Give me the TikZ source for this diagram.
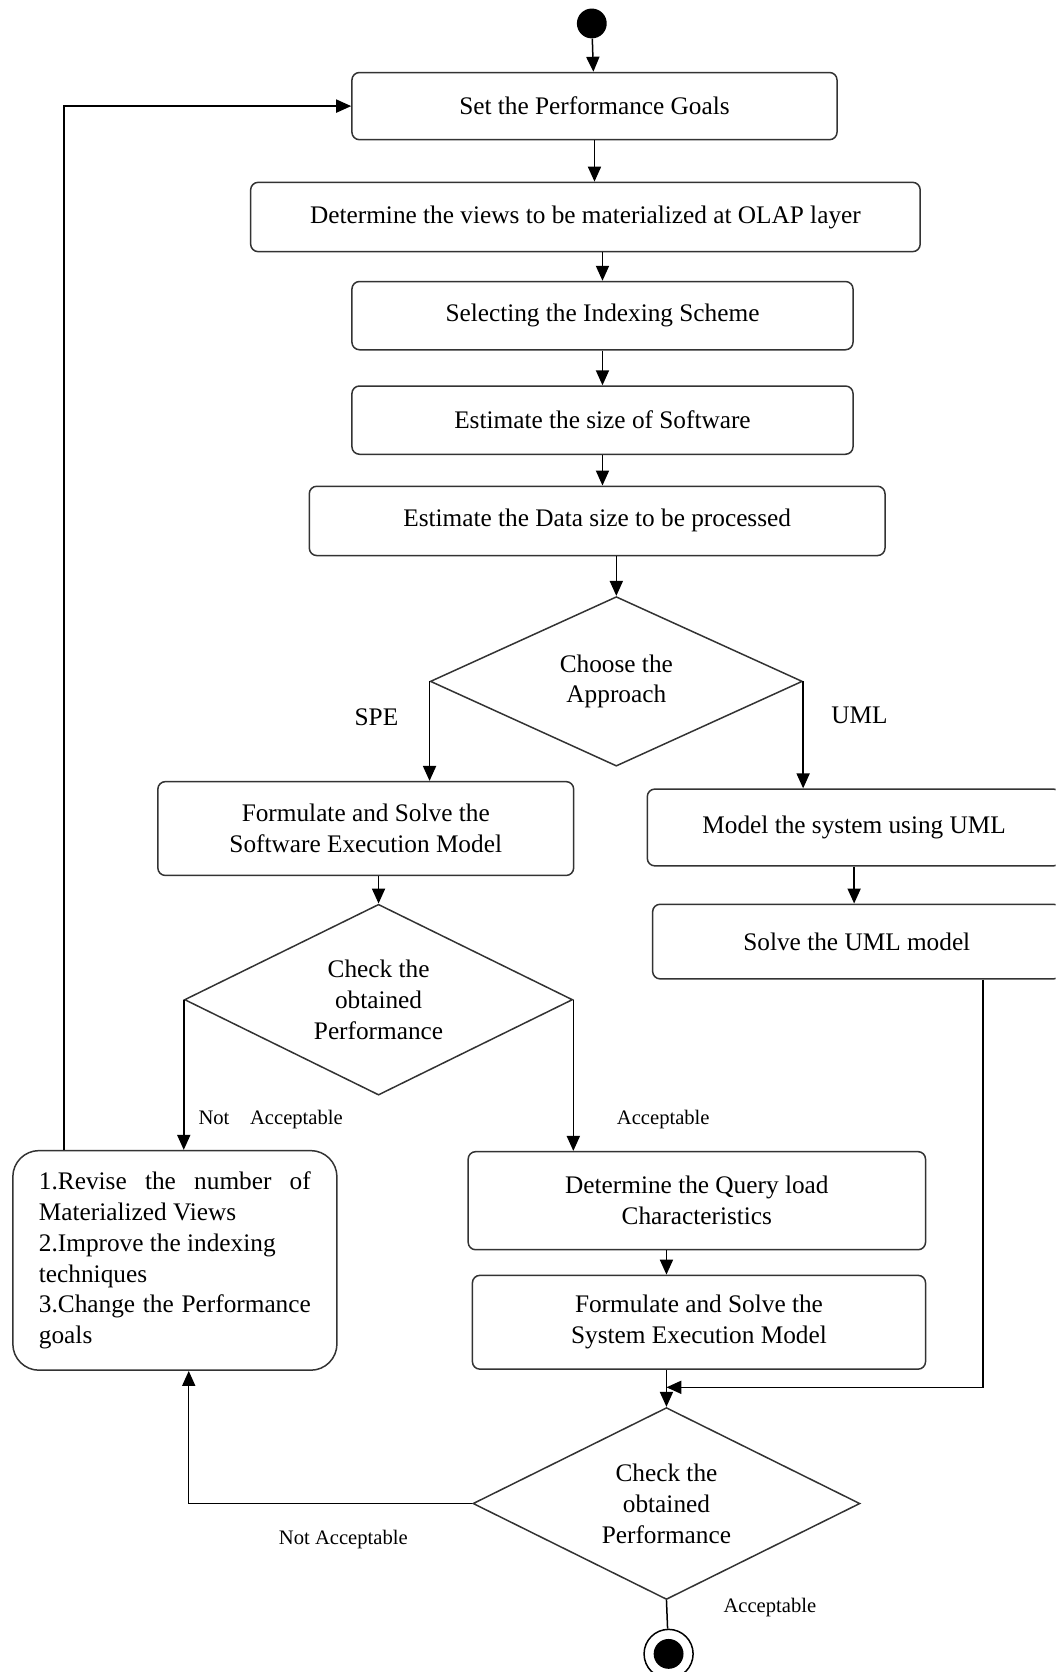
\documentclass[tikz,border=0pt]{standalone}
\usepackage{fontspec}
\setmainfont{Liberation Serif}
\usetikzlibrary{shapes.geometric, arrows.meta}

\begin{document}
\begin{tikzpicture}[
    x=0.02cm, y=-0.02cm,
    font=\fontsize{13.5}{16.5}\selectfont,
    act/.style={draw=black!80, line width=0.8pt, rounded corners=4pt, align=center, inner sep=0pt},
    choice/.style={draw=black!80, line width=0.8pt, diamond, aspect=2, align=center, inner sep=0pt},
    arr/.style={-{Triangle[length=8pt, width=7pt]}, line width=0.8pt},
    lbl/.style={font=\fontsize{11}{13}\selectfont}
]

% Frame
\useasboundingbox (0,0) rectangle (990,1568);
\clip (0,0) rectangle (990,1568);

% Start and end
\node[circle, fill, minimum size=0.56cm, inner sep=0pt] (start) at (555,22) {};
\node[circle, draw, line width=0.8pt, minimum size=0.92cm, inner sep=0pt] (stop) at (627,1551) {};
\node[circle, fill, minimum size=0.56cm, inner sep=0pt] (stopdot) at (stop) {};

% Main column
\node[act, minimum width=9.1cm, minimum height=1.26cm] (goals) at (557.5,99.5) {Set the Performance Goals};
\node[act, minimum width=12.56cm, minimum height=1.3cm] (views) at (549,203.5) {Determine the views to be materialized at OLAP layer};
\node[act, minimum width=9.4cm, minimum height=1.28cm] (index) at (565,296) {Selecting the Indexing Scheme};
\node[act, minimum width=9.4cm, minimum height=1.28cm] (swsize) at (565,394) {Estimate the size of Software};
\node[act, minimum width=10.8cm, minimum height=1.3cm] (datasize) at (560,488.5) {Estimate the Data size to be processed};
\node[choice, minimum width=6.98cm, minimum height=3.18cm] (approach) at (578,639) {Choose the\\Approach};

% SPE branch
\node[act, minimum width=7.8cm, minimum height=1.76cm] (swmodel) at (343,777) {Formulate and Solve the\\Software Execution Model};
\node[choice, minimum width=7.28cm, minimum height=3.58cm] (check1) at (355,937.5) {Check the\\obtained\\Performance};
\node[act, rounded corners=14pt, minimum width=6.08cm, minimum height=4.12cm, text width=5.1cm, align=justify] (revise) at (164,1182)
    {\hyphenpenalty=10000 1.Revise the number of Materialized Views\\2.Improve the indexing\\techniques\\3.Change the Performance goals};
\node[act, minimum width=8.58cm, minimum height=1.84cm] (query) at (653.5,1126) {Determine the Query load\\Characteristics};
\node[act, minimum width=8.5cm, minimum height=1.76cm] (sysmodel) at (655.5,1240) {Formulate and Solve the\\System Execution Model};

% UML branch
\node[act, minimum width=7.76cm, minimum height=1.44cm] (umlmodel) at (801,776) {Model the system using UML};
\node[act, minimum width=7.66cm, minimum height=1.4cm] (umlsolve) at (803.5,883) {Solve the UML model};

% Final check
\node[choice, minimum width=7.26cm, minimum height=3.6cm] (check2) at (625,1410) {Check the\\obtained\\Performance};
\coordinate (merge) at (625,1301);

% Labels
\node (spelbl) at (353,673) {SPE};
\node (umllbl) at (806,671) {UML};
\node[lbl, anchor=west] (notok1) at (180,1050) {Not\quad Acceptable};
\node[lbl] (ok1) at (622,1050) {Acceptable};
\node[lbl] (notok2) at (322,1444) {Not Acceptable};
\node[lbl] (ok2) at (722,1508) {Acceptable};

% Connectors
\draw[arr] (start) -- (goals);
\draw[arr] (goals.south) -- (goals.south |- views.north);
\draw[arr] (views.south -| index.north) -- (index.north);
\draw[arr] (index.south) -- (swsize.north);
\draw[arr] (swsize.south) -- (swsize.south |- datasize.north);
\draw[arr] (datasize.south -| approach.north) -- (approach.north);
\draw[arr] (approach.west) -- (approach.west |- swmodel.north);
\draw[arr] (approach.east) -- (approach.east |- umlmodel.north);
\draw[arr] (swmodel.south -| check1.north) -- (check1.north);
\draw[arr] (umlmodel.south) -- (umlmodel.south |- umlsolve.north);
\draw[arr] (check1.west) -- (check1.west |- revise.north);
\draw[arr] (check1.east) -- (check1.east |- query.north);
\draw[arr] (query.south -| check2.north) -- (sysmodel.north -| check2.north);
\draw[arr] (sysmodel.south -| check2.north) -- (check2.north);
\draw[arr] ([xshift=2.37cm]umlsolve.south) |- (merge);
\draw[arr] (check2.west) -| ([xshift=0.26cm]revise.south);
\draw[arr] ([xshift=-2.08cm]revise.north) |- (goals.west);
\draw[line width=0.8pt] (check2.south) -- (stop);

\end{tikzpicture}
\end{document}
